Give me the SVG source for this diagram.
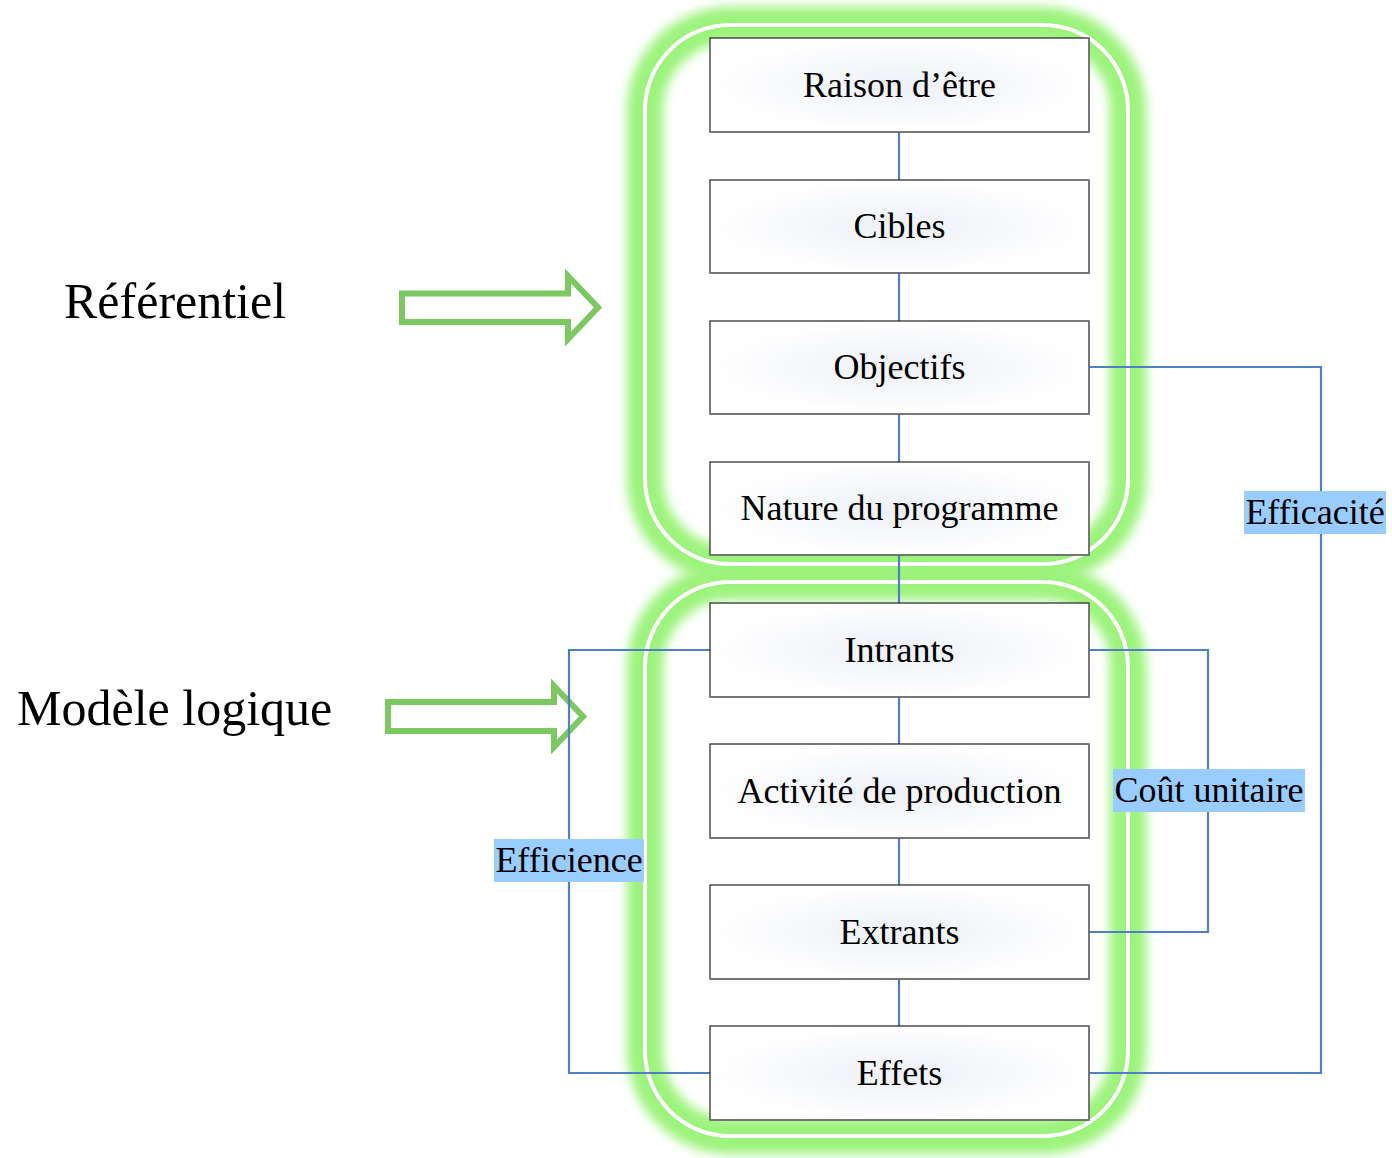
<svg xmlns="http://www.w3.org/2000/svg" width="1392" height="1158" viewBox="0 0 1392 1158">
<defs>
  <filter id="blur" x="-10%" y="-10%" width="120%" height="120%">
    <feGaussianBlur stdDeviation="5.5"/>
  </filter>
  <radialGradient id="boxfill" cx="50%" cy="50%" r="50%">
    <stop offset="0" stop-color="#edf0f7"/>
    <stop offset="1" stop-color="#ffffff"/>
  </radialGradient>
  <style>
    .glow{fill:none;stroke:#9cf37c;stroke-width:36;filter:url(#blur);}
    .ring{fill:none;stroke:#ffffff;stroke-width:4;}
    .box{fill:url(#boxfill);stroke:#222;stroke-width:1.2;}
    .shade{fill:none;stroke:#777;stroke-width:1.6;}
    .btxt{font-family:"Liberation Serif","Times New Roman",serif;font-size:36px;fill:#000;text-anchor:middle;}
    .side{font-family:"Liberation Serif","Times New Roman",serif;font-size:50px;fill:#000;}
    .lbl{font-family:"Liberation Serif","Times New Roman",serif;font-size:36px;fill:#000;text-anchor:middle;}
    .hl{fill:#99ccff;}
    .conn{fill:none;stroke:#4f7fc4;stroke-width:2.2;}
    .arrow{fill:none;stroke:#7cc861;stroke-width:6;stroke-linejoin:miter;}
  </style>
</defs>
<rect width="1392" height="1158" fill="#ffffff"/>

<g id="frames">
  <rect class="glow" x="645" y="25" width="483" height="539" rx="85" ry="85"/>
  <rect class="glow" x="645" y="582" width="483" height="554" rx="85" ry="85"/>
  <rect class="ring" x="645" y="25" width="483" height="539" rx="85" ry="85"/>
  <rect class="ring" x="645" y="582" width="483" height="554" rx="85" ry="85"/>
</g>

<g id="arrows">
  <path id="arrow-referentiel" class="arrow" d="M402,293.5 H568 V276 L598,307.5 L568,339 V322 H402 Z"/>
  <path id="arrow-modele" class="arrow" d="M388,702 H554 V686 L583,716.5 L554,747 V731 H388 Z"/>
</g>

<g id="connectors">
  <path class="conn" d="M899,132 V180"/>
  <path class="conn" d="M899,273 V321"/>
  <path class="conn" d="M899,414 V462"/>
  <path class="conn" d="M899,555 V603"/>
  <path class="conn" d="M899,697 V744"/>
  <path class="conn" d="M899,838 V885"/>
  <path class="conn" d="M899,979 V1026"/>
  <path class="conn" d="M1089,367 H1321 V1073 H1089"/>
  <path class="conn" d="M1089,650 H1208 V932 H1089"/>
  <path class="conn" d="M710,650 H569 V1073 H710"/>
</g>

<g id="node-raison">
  <rect class="box" x="710" y="38" width="379" height="94"/>
  <path class="shade" d="M1089,38 V132 H710"/>
  <text class="btxt" x="899.5" y="97">Raison d’être</text>
</g>
<g id="node-cibles">
  <rect class="box" x="710" y="180" width="379" height="93"/>
  <path class="shade" d="M1089,180 V273 H710"/>
  <text class="btxt" x="899.5" y="238">Cibles</text>
</g>
<g id="node-objectifs">
  <rect class="box" x="710" y="321" width="379" height="93"/>
  <path class="shade" d="M1089,321 V414 H710"/>
  <text class="btxt" x="899.5" y="379">Objectifs</text>
</g>
<g id="node-nature">
  <rect class="box" x="710" y="462" width="379" height="93"/>
  <path class="shade" d="M1089,462 V555 H710"/>
  <text class="btxt" x="899.5" y="520">Nature du programme</text>
</g>
<g id="node-intrants">
  <rect class="box" x="710" y="603" width="379" height="94"/>
  <path class="shade" d="M1089,603 V697 H710"/>
  <text class="btxt" x="899.5" y="662">Intrants</text>
</g>
<g id="node-activite">
  <rect class="box" x="710" y="744" width="379" height="94"/>
  <path class="shade" d="M1089,744 V838 H710"/>
  <text class="btxt" x="899.5" y="803">Activité de production</text>
</g>
<g id="node-extrants">
  <rect class="box" x="710" y="885" width="379" height="94"/>
  <path class="shade" d="M1089,885 V979 H710"/>
  <text class="btxt" x="899.5" y="944">Extrants</text>
</g>
<g id="node-effets">
  <rect class="box" x="710" y="1026" width="379" height="94"/>
  <path class="shade" d="M1089,1026 V1120 H710"/>
  <text class="btxt" x="899.5" y="1085">Effets</text>
</g>

<g id="label-efficacite">
  <rect class="hl" x="1244" y="491" width="142" height="43"/>
  <text class="lbl" x="1315" y="524">Efficacité</text>
</g>
<g id="label-cout">
  <rect class="hl" x="1113" y="769" width="192" height="43"/>
  <text class="lbl" x="1209" y="802">Coût unitaire</text>
</g>
<g id="label-efficience">
  <rect class="hl" x="494" y="839" width="150" height="43"/>
  <text class="lbl" x="569" y="872">Efficience</text>
</g>

<g id="side-labels">
  <text class="side" x="64" y="318">Référentiel</text>
  <text class="side" x="17" y="725">Modèle logique</text>
</g>
</svg>
